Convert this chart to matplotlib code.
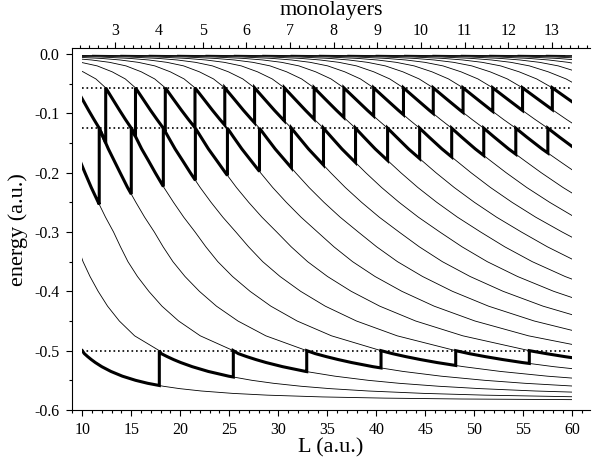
import numpy as np
import matplotlib
matplotlib.use("Agg")
import matplotlib.pyplot as plt
from matplotlib.patches import Rectangle
from matplotlib.ticker import MultipleLocator

plt.rcParams['font.family'] = ['Liberation Serif', 'DejaVu Serif']
plt.rcParams['axes.unicode_minus'] = False

# film thickness L (a.u.) at which successive quantum-well states cross each
# energy level; first_state is the index of the state of the first entry
energy_levels = [-0.002, -0.003, -0.005, -0.0075, -0.01, -0.014, -0.02, -0.03,
                 -0.042, -0.057, -0.075, -0.095, -0.11, -0.125, -0.14, -0.16,
                 -0.18, -0.2, -0.225, -0.25, -0.275, -0.3, -0.325, -0.35,
                 -0.375, -0.4, -0.425, -0.45, -0.475, -0.5, -0.505, -0.51,
                 -0.515, -0.52, -0.527, -0.535, -0.543, -0.55, -0.555, -0.56,
                 -0.564, -0.568, -0.572, -0.575, -0.578, -0.58, -0.5815, -0.583]
first_state = [10, 8, 7, 6, 5, 4, 4, 3,
               3, 3, 2, 2, 2, 2, 2, 2,
               1, 1, 1, 1, 1, 1, 0, 0,
               0, 0, 0, 0, 0, 0, 0, 0,
               0, 0, 0, 0, 0, 0, 0, 0,
               0, 0, 0, 0, 0, 0, 0, 0]
crossings = [
    [8.13, 11.03, 13.92, 16.82, 19.71, 22.61, 25.50, 28.40, 31.29, 34.18,
     37.08, 39.97, 42.87, 45.76, 48.66, 51.55, 54.45, 57.34],
    [7.10, 9.99, 12.89, 15.79, 18.69, 21.58, 24.48, 27.38, 30.27, 33.17,
     36.07, 38.96, 41.86, 44.76, 47.66, 50.55, 53.45, 56.35, 59.24, 62.14],
    [8.97, 11.87, 14.77, 17.67, 20.57, 23.48, 26.38, 29.28, 32.18, 35.08,
     37.99, 40.89, 43.79, 46.69, 49.59, 52.50, 55.40, 58.30, 61.20],
    [9.10, 12.01, 14.92, 17.83, 20.73, 23.64, 26.55, 29.46, 32.37, 35.28,
     38.18, 41.09, 44.00, 46.91, 49.82, 52.72, 55.63, 58.54, 61.45],
    [8.01, 10.93, 13.84, 16.76, 19.67, 22.59, 25.50, 28.41, 31.33, 34.24,
     37.16, 40.07, 42.99, 45.90, 48.81, 51.73, 54.64, 57.56, 60.47],
    [6.93, 9.86, 12.78, 15.71, 18.63, 21.55, 24.48, 27.40, 30.33, 33.25,
     36.18, 39.10, 42.03, 44.95, 47.88, 50.80, 53.72, 56.65, 59.57, 62.50],
    [8.58, 11.52, 14.46, 17.40, 20.34, 23.28, 26.22, 29.16, 32.10, 35.04,
     37.98, 40.92, 43.86, 46.80, 49.74, 52.68, 55.62, 58.56, 61.50],
    [7.12, 10.08, 13.05, 16.02, 18.98, 21.95, 24.91, 27.88, 30.85, 33.81,
     36.78, 39.74, 42.71, 45.68, 48.64, 51.61, 54.57, 57.54, 60.51],
    [8.39, 11.39, 14.39, 17.39, 20.39, 23.39, 26.38, 29.38, 32.38, 35.38,
     38.38, 41.37, 44.37, 47.37, 50.37, 53.37, 56.36, 59.36, 62.36],
    [9.35, 12.39, 15.43, 18.47, 21.50, 24.54, 27.58, 30.62, 33.66, 36.69,
     39.73, 42.77, 45.81, 48.85, 51.88, 54.92, 57.96, 61.00],
    [6.87, 9.97, 13.06, 16.16, 19.25, 22.35, 25.45, 28.54, 31.64, 34.73,
     37.83, 40.92, 44.02, 47.11, 50.21, 53.30, 56.40, 59.50, 62.59],
    [7.49, 10.65, 13.81, 16.97, 20.13, 23.29, 26.45, 29.61, 32.78, 35.94,
     39.10, 42.26, 45.42, 48.58, 51.74, 54.90, 58.06, 61.22],
    [7.97, 11.18, 14.39, 17.61, 20.82, 24.03, 27.25, 30.46, 33.67, 36.89,
     40.10, 43.31, 46.53, 49.74, 52.95, 56.17, 59.38, 62.59],
    [8.46, 11.73, 15.00, 18.27, 21.54, 24.81, 28.08, 31.34, 34.61, 37.88,
     41.15, 44.42, 47.69, 50.96, 54.23, 57.50, 60.77],
    [8.81, 12.13, 15.46, 18.78, 22.11, 25.43, 28.76, 32.08, 35.41, 38.73,
     42.06, 45.38, 48.70, 52.03, 55.35, 58.68, 62.00],
    [9.26, 12.66, 16.06, 19.47, 22.87, 26.28, 29.68, 33.08, 36.49, 39.89,
     43.29, 46.70, 50.10, 53.50, 56.91, 60.31],
    [6.28, 9.77, 13.26, 16.76, 20.25, 23.74, 27.23, 30.72, 34.21, 37.70,
     41.19, 44.68, 48.17, 51.66, 55.15, 58.64, 62.13],
    [6.70, 10.27, 13.86, 17.44, 21.02, 24.60, 28.18, 31.76, 35.34, 38.92,
     42.50, 46.08, 49.66, 53.24, 56.82, 60.40],
    [7.22, 10.92, 14.62, 18.33, 22.03, 25.73, 29.43, 33.14, 36.84, 40.54,
     44.24, 47.95, 51.65, 55.35, 59.05, 62.76],
    [7.79, 11.63, 15.47, 19.31, 23.14, 26.98, 30.82, 34.66, 38.50, 42.33,
     46.17, 50.01, 53.85, 57.69, 61.52],
    [8.38, 12.37, 16.36, 20.35, 24.34, 28.33, 32.32, 36.31, 40.30, 44.29,
     48.28, 52.27, 56.26, 60.25],
    [9.03, 13.19, 17.35, 21.51, 25.67, 29.84, 34.00, 38.16, 42.32, 46.48,
     50.64, 54.80, 58.96, 63.13],
    [5.18, 9.54, 13.90, 18.25, 22.61, 26.97, 31.32, 35.68, 40.04, 44.39,
     48.75, 53.11, 57.46, 61.82],
    [5.50, 10.08, 14.66, 19.25, 23.83, 28.41, 32.99, 37.58, 42.16, 46.74,
     51.32, 55.91, 60.49],
    [5.94, 10.79, 15.63, 20.48, 25.33, 30.18, 35.02, 39.87, 44.72, 49.57,
     54.41, 59.26, 64.11],
    [6.46, 11.62, 16.79, 21.95, 27.12, 32.28, 37.44, 42.61, 47.77, 52.94,
     58.10, 63.27],
    [7.03, 12.58, 18.13, 23.69, 29.24, 34.79, 40.35, 45.90, 51.45, 57.01,
     62.56],
    [7.74, 13.78, 19.83, 25.88, 31.92, 37.97, 44.01, 50.06, 56.11, 62.15],
    [8.64, 15.34, 22.04, 28.73, 35.43, 42.13, 48.83, 55.53, 62.22],
    [10.00, 17.86, 25.41, 32.90, 40.48, 48.10, 55.61, 63.20],
    [10.21, 18.06, 25.92, 33.77, 41.63, 49.48, 57.33, 65.19],
    [10.55, 18.66, 26.77, 34.88, 42.99, 51.10, 59.21, 67.33],
    [10.92, 19.31, 27.71, 36.11, 44.50, 52.90, 61.29],
    [11.33, 20.04, 28.75, 37.47, 46.18, 54.89, 63.60],
    [11.99, 21.22, 30.44, 39.66, 48.89, 58.11, 67.33],
    [12.92, 22.85, 32.78, 42.72, 52.65, 62.59],
    [14.09, 24.93, 35.77, 46.61, 57.45, 68.29],
    [15.44, 27.31, 39.18, 51.06, 62.93],
    [16.67, 29.50, 42.32, 55.15, 67.98],
    [18.27, 32.32, 46.37, 60.42],
    [19.93, 35.26, 50.59, 65.92],
    [22.15, 39.19, 56.23, 73.26],
    [25.33, 44.81, 64.29],
    [28.88, 51.09, 73.31],
    [34.52, 61.07],
    [40.84, 72.26],
    [48.81],
    [64.58],
]

# the thick lines follow the highest state below these energies (dotted)
jump_levels = [-0.057, -0.125, -0.5]

L_ticks = [10, 15, 20, 25, 30, 35, 40, 45, 50, 55, 60]
energy_ticks = [-0.6, -0.5, -0.4, -0.3, -0.2, -0.1, 0.0]
energy_labels = ['-0.6', '-0.5', '-0.4', '-0.3', '-0.2', '-0.1', '0.0']
monolayer_ticks = [3, 4, 5, 6, 7, 8, 9, 10, 11, 12, 13]
layer_spacing = 4.456   # a.u. per monolayer

# gather the points of every state
n_states = max(f + len(c) for f, c in zip(first_state, crossings))
states = [[] for _ in range(n_states)]
for E, f, Ls in zip(energy_levels, first_state, crossings):
    for j, L in enumerate(Ls):
        states[f + j].append((L, E))
states = [np.array(sorted(s)) for s in states]

fig = plt.figure(figsize=(5.92, 4.66), dpi=100)
ax = fig.add_axes([0.1211, 0.1202, 0.8755, 0.7761])
ax.set_xlim(8.92, 61.8)
ax.set_ylim(-0.6, 0.0096)

clip = Rectangle((10, -0.6), 50, 0.62, transform=ax.transData)

for s in states:
    line, = ax.plot(s[:, 0], s[:, 1], color='black', lw=0.6)
    line.set_clip_path(clip)

for Et in jump_levels:
    i = energy_levels.index(Et)
    f, Ls = first_state[i], crossings[i]
    xs, ys = [], []
    for j in range(len(Ls) - 1):
        s = states[f + j]
        La, Lb = Ls[j], Ls[j + 1]
        inside = (s[:, 0] > La) & (s[:, 0] < Lb)
        xs += [La] + list(s[inside, 0]) + [Lb, Lb]
        ys += [Et] + list(s[inside, 1]) + [np.interp(Lb, s[:, 0], s[:, 1]), Et]
    line, = ax.plot(xs, ys, color='black', lw=2.2, solid_joinstyle='miter')
    line.set_clip_path(clip)
    ax.plot([10, 60], [Et, Et], color='black', lw=1.2, ls=(0, (1, 1.7)))

ax.spines['right'].set_visible(False)
ax.spines['top'].set_visible(False)
for sp in ax.spines.values():
    sp.set_linewidth(0.8)

ax.set_xticks(L_ticks)
ax.xaxis.set_minor_locator(MultipleLocator(1))
ax.set_yticks(energy_ticks)
ax.set_yticklabels(energy_labels)
ax.yaxis.set_minor_locator(MultipleLocator(0.05))
ax.tick_params(which='both', direction='out', width=0.8, labelsize=11.5, pad=5)
ax.tick_params(which='major', length=4)
ax.tick_params(which='minor', length=2)

secax = ax.secondary_xaxis('top', functions=(lambda L: L / layer_spacing,
                                             lambda n: n * layer_spacing))
secax.set_xticks(monolayer_ticks)
secax.xaxis.set_minor_locator(MultipleLocator(0.2))
secax.spines['top'].set_linewidth(0.8)
secax.tick_params(which='both', direction='out', width=0.8, labelsize=11.5, pad=3)
secax.tick_params(which='major', length=4)
secax.tick_params(which='minor', length=2)

ax.set_xlabel('L (a.u.)', fontsize=16, va='center')
ax.xaxis.set_label_coords(0.5, -0.105)
ax.set_ylabel('energy (a.u.)', fontsize=16, va='center')
ax.yaxis.set_label_coords(-0.104, 0.5)
ax.text(0.5, 1.1045, 'monolayers', transform=ax.transAxes, fontsize=16,
        ha='center', va='center')

fig.savefig('out.png', dpi=100)
